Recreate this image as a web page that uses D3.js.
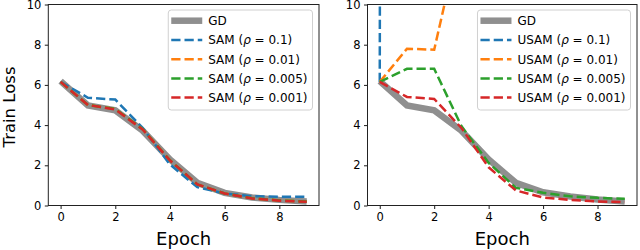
<!DOCTYPE html>
<html><head><meta charset="utf-8">
<script src="https://cdn.jsdelivr.net/npm/d3@7"></script>
<style>
body{margin:0;background:#fff;}
text{font-family:"DejaVu Sans",sans-serif;fill:#000;}
</style></head>
<body><svg id="c" width="640" height="250"></svg>
<script>
const epochs = [0,1,2,3,4,5,6,7,8,9];
const xTicks = [0,2,4,6,8];
const yTicks = [0,2,4,6,8,10];
const rhoLabels = ["0.1","0.01","0.005","0.001"];
const colors = ["#1f77b4","#ff7f0e","#2ca02c","#d62728"];

// left panel: GD and SAM
const gdLeft   = [6.19,4.98,4.73,3.72,2.29,1.13,0.63,0.40,0.28,0.20];
const sam01    = [6.15,5.36,5.27,3.86,2.04,0.91,0.60,0.46,0.43,0.43];
const sam001   = [6.15,5.00,4.80,3.80,2.25,1.05,0.60,0.36,0.25,0.20];
const sam0005  = [6.15,5.00,4.80,3.80,2.25,1.05,0.60,0.36,0.25,0.20];
const sam0001  = [6.15,5.00,4.78,3.78,2.24,1.05,0.60,0.35,0.24,0.19];

// right panel: GD and USAM
const gdRight  = [6.19,4.98,4.73,3.72,2.29,1.13,0.66,0.45,0.30,0.20];
const usam01   = [6.15,900,null,null,null,null,null,null,null,null];
const usam001  = [6.15,7.80,7.75,13.7,null,null,null,null,null,null];
const usam0005 = [6.15,6.80,6.80,3.95,2.12,0.88,0.63,0.46,0.38,0.33];
const usam0001 = [6.15,5.40,5.30,3.86,1.90,0.75,0.40,0.28,0.20,0.17];

const svg = d3.select("#c");
const plotTop = 4.5, plotBottom = 205.5;

function panel(x0, x1, gd, series, name, ylab, id){
  const x = d3.scaleLinear().domain([-0.45,9.45]).range([x0,x1]);
  const y = d3.scaleLinear().domain([0,10]).range([plotBottom,plotTop]);
  const g = svg.append("g");
  g.append("clipPath").attr("id",id).append("rect")
    .attr("x",x0).attr("y",plotTop).attr("width",x1-x0).attr("height",plotBottom-plotTop);
  const line = d3.line().defined(d=>d[1]!=null).x(d=>x(d[0])).y(d=>y(d[1]));
  const pl = g.append("g").attr("clip-path",`url(#${id})`);
  pl.append("path").attr("d",line(epochs.map((e,i)=>[e,gd[i]])))
    .attr("fill","none").attr("stroke","#8f8f8f").attr("stroke-width",6.5)
    .attr("stroke-linejoin","miter");
  series.forEach((s,k)=>{
    pl.append("path").attr("d",line(epochs.map((e,i)=>[e,s[i]])))
      .attr("fill","none").attr("stroke",colors[k]).attr("stroke-width",2.5)
      .attr("stroke-dasharray","9.25,4");
  });
  const xa = g.append("g").attr("transform",`translate(0,${plotBottom})`)
    .call(d3.axisBottom(x).tickValues(xTicks).tickSize(3.5).tickPadding(3.5).tickFormat(d3.format("d")));
  const ya = g.append("g").attr("transform",`translate(${x0},0)`)
    .call(d3.axisLeft(y).tickValues(yTicks).tickSize(3.5).tickPadding(3.5).tickFormat(d3.format("d")));
  [xa,ya].forEach(a=>{
    a.select(".domain").remove();
    a.selectAll("line").attr("stroke","#000").attr("stroke-width",0.9);
    a.selectAll("text").style("font-size","11.5px").style("font-family","DejaVu Sans");
  });
  g.append("rect").attr("x",x0).attr("y",plotTop).attr("width",x1-x0).attr("height",plotBottom-plotTop)
    .attr("fill","none").attr("stroke","#222").attr("stroke-width",1);
  g.append("text").attr("x",(x0+x1)/2).attr("y",245).attr("text-anchor","middle")
    .style("font-size","18px").text("Epoch");
  if(ylab){
    g.append("text").attr("transform","translate(15,107) rotate(-90)").attr("text-anchor","middle")
      .style("font-size","16.5px").text(ylab);
  }
  const lg = g.append("g");
  const box = lg.append("rect");
  const rowsY = [20.7,40,59.3,78.4,97.6];
  const handleW = 31, gap = 6;
  const textNodes = [];
  const labels = [{t:"GD",gd:true}].concat(rhoLabels.map((r,k)=>({t:name,r:r,k:k})));
  const tg = lg.append("g");
  labels.forEach((L,i)=>{
    const t = tg.append("text").attr("y",rowsY[i]).attr("dy","0.36em").style("font-size","12px");
    if(L.gd){ t.text("GD"); }
    else {
      t.append("tspan").text(L.t+" (");
      t.append("tspan").style("font-style","italic").text("ρ");
      t.append("tspan").text(" = "+L.r+")");
    }
    textNodes.push(t);
  });
  const maxW = d3.max(textNodes, t=>t.node().getComputedTextLength());
  const bw = 3 + handleW + gap + maxW + 5;
  const bx = x1 - 6.5 - bw;
  box.attr("x",bx).attr("y",10).attr("width",bw).attr("height",100).attr("rx",3)
    .attr("fill","#fff").attr("fill-opacity",0.8).attr("stroke","#d0d0d0").attr("stroke-width",1);
  labels.forEach((L,i)=>{
    const hx = bx+3;
    lg.insert("line","g").attr("x1",hx).attr("x2",hx+handleW).attr("y1",rowsY[i]).attr("y2",rowsY[i])
      .attr("stroke", L.gd ? "#8f8f8f" : colors[L.k])
      .attr("stroke-width", L.gd ? 6.5 : 2.5)
      .attr("stroke-dasharray", L.gd ? null : "9.25,4");
    textNodes[i].attr("x", hx+handleW+gap);
  });
}

panel(48.3, 319, gdLeft, [sam01,sam001,sam0005,sam0001], "SAM", "Train Loss", "clipL");
panel(367.5, 637, gdRight, [usam01,usam001,usam0005,usam0001], "USAM", null, "clipR");
</script></body></html>
